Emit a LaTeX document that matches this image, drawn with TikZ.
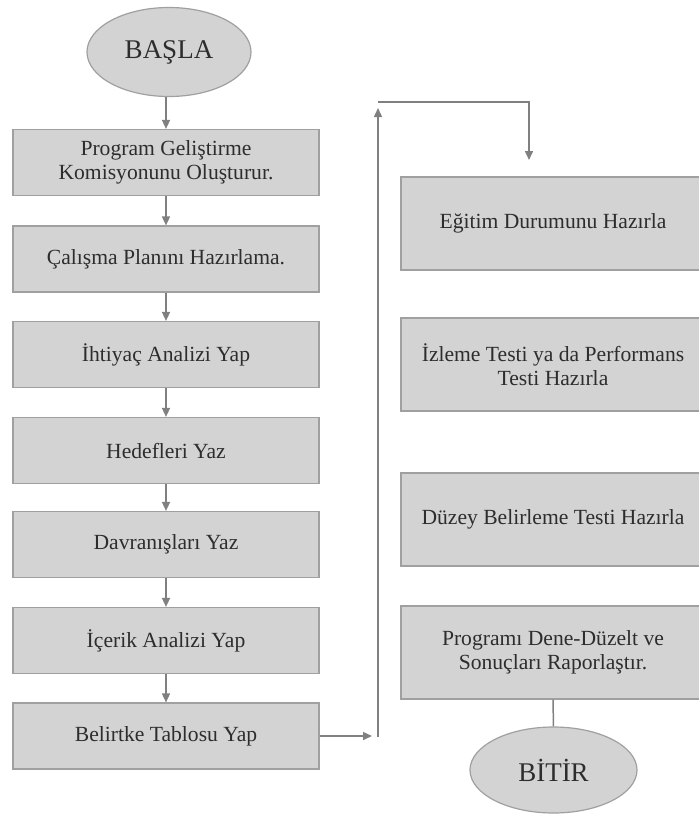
\documentclass[tikz,border=0pt]{standalone}
\usepackage{fontspec}
\setmainfont{Liberation Serif}
\usetikzlibrary{arrows.meta,shapes.geometric}
\definecolor{boxfill}{RGB}{211,211,211}
\definecolor{boxline}{RGB}{160,160,160}
\definecolor{conn}{RGB}{128,128,128}
\definecolor{txt}{RGB}{45,45,45}
\tikzset{
  lbox/.style={draw=boxline, fill=boxfill, line width=1.2pt, minimum width=306pt, minimum height=66pt, inner sep=0pt, align=center, text=txt, font=\fontsize{21.6}{24.5}\selectfont},
  rbox/.style={lbox, minimum width=304pt, minimum height=93pt},
  oval/.style={ellipse, draw=boxline, fill=boxfill, line width=1.2pt, inner sep=0pt, text=txt, font=\fontsize{27}{30}\selectfont},
  arr/.style={draw=conn, line width=1.5pt, -{Triangle[length=9pt,width=8pt]}},
  ln/.style={draw=conn, line width=1.5pt}
}
\begin{document}
\begin{tikzpicture}[x=1pt,y=-1pt]
\useasboundingbox (0,0) rectangle (699,815);
\node[oval, minimum width=164pt, minimum height=89pt] (basla) at (169,52) {BAŞLA};
\node[lbox] (b1) at (166,162.5) {Program Geliştirme\\Komisyonunu Oluşturur.};
\node[lbox] (b2) at (166,259) {Çalışma Planını Hazırlama.};
\node[lbox] (b3) at (166,354.5) {İhtiyaç Analizi Yap};
\node[lbox] (b4) at (166,450.5) {Hedefleri Yaz};
\node[lbox] (b5) at (166,544.5) {Davranışları Yaz};
\node[lbox] (b6) at (166,640.5) {İçerik Analizi Yap};
\node[lbox] (b7) at (166,736) {Belirtke Tablosu Yap};
\node[rbox] (r1) at (553,223.5) {Eğitim Durumunu Hazırla};
\node[rbox] (r2) at (553,364.5) {İzleme Testi ya da Performans\\Testi Hazırla};
\node[rbox] (r3) at (553,519.5) {Düzey Belirleme Testi Hazırla};
\node[rbox] (r4) at (553,652.5) {Programı Dene-Düzelt ve\\Sonuçları Raporlaştır.};
\node[oval, minimum width=167pt, minimum height=86pt] (bitir) at (553.5,770) {BİTİR};
\draw[arr] (basla.south -| b1.north) -- (b1.north);
\draw[arr] (b1) -- (b2);
\draw[arr] (b2) -- (b3);
\draw[arr] (b3) -- (b4);
\draw[arr] (b4) -- (b5);
\draw[arr] (b5) -- (b6);
\draw[arr] (b6) -- (b7);
\coordinate (c1) at (372,736);
\coordinate (c2) at (378,737);
\coordinate (c3) at (378,108);
\coordinate (c4) at (378,102);
\coordinate (c5) at (529,102);
\coordinate (c6) at (529,160);
\draw[arr] (b7.east) -- (c1);
\draw[arr] (c2) -- (c3);
\draw[arr] (c4) -- (c5) -- (c6);
\draw[ln] (r4.south) -- (bitir.north);
\end{tikzpicture}
\end{document}
